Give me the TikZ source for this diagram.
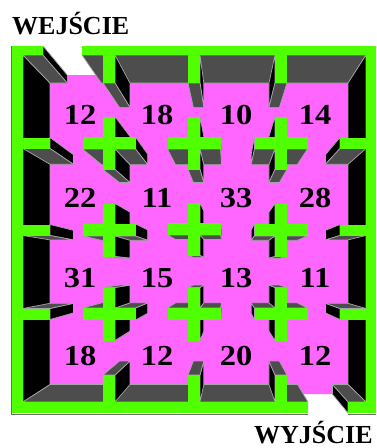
\documentclass[tikz,border=0pt]{standalone}
\usepackage{fontspec}
\setmainfont{Liberation Serif}
\usetikzlibrary{calc}
\definecolor{mzgreen}{RGB}{80,255,0}
\definecolor{mzpink}{RGB}{255,102,255}
\definecolor{mzgray}{RGB}{77,77,77}
\definecolor{mzblack}{RGB}{0,0,0}
\definecolor{mzedge}{RGB}{165,165,165}
\definecolor{mzshadow}{RGB}{110,110,110}
\def\VPx{229}\def\VPy{269}\def\sk{0.869}
% one side face of a wall: from edge (#2,#3)-(#4,#5) at top level down to floor level
\newcommand{\qf}[5]{\path[fill=#1, draw=mzedge, line width=0.7pt, line join=round] (#2,#3) -- (#4,#5) -- ($(V)!\sk!(#4,#5)$) -- ($(V)!\sk!(#2,#3)$) -- cycle;}
% visible faces of a box x1 y1 x2 y2, flags: left right top bottom candidates
\newcommand{\armbox}[8]{%
  \ifnum#5=1 \ifdim\VPx pt<#1pt \qf{mzblack}{#1}{#2}{#1}{#4}\fi\fi
  \ifnum#6=1 \ifdim\VPx pt>#3pt \qf{mzblack}{#3}{#2}{#3}{#4}\fi\fi
  \ifnum#7=1 \ifdim\VPy pt<#2pt \qf{mzgray}{#1}{#2}{#3}{#2}\fi\fi
  \ifnum#8=1 \ifdim\VPy pt>#4pt \qf{mzgray}{#1}{#4}{#3}{#4}\fi\fi
}
\newcommand{\crossfaces}[2]{%
  \pgfmathsetmacro\cxa{#1-26.5}\pgfmathsetmacro\cxb{#1-6}%
  \pgfmathsetmacro\cxc{#1+6}\pgfmathsetmacro\cxd{#1+26.5}%
  \pgfmathsetmacro\cya{#2-26.5}\pgfmathsetmacro\cyb{#2-6}%
  \pgfmathsetmacro\cyc{#2+6}\pgfmathsetmacro\cyd{#2+26.5}%
  \ifdim#1pt<\VPx pt
    \def\farH{\armbox{\cxa}{\cyb}{\cxb}{\cyc}{1}{0}{1}{1}}%
    \def\nearH{\armbox{\cxc}{\cyb}{\cxd}{\cyc}{0}{1}{1}{1}}%
  \else
    \def\farH{\armbox{\cxc}{\cyb}{\cxd}{\cyc}{0}{1}{1}{1}}%
    \def\nearH{\armbox{\cxa}{\cyb}{\cxb}{\cyc}{1}{0}{1}{1}}%
  \fi
  \ifdim#2pt<\VPy pt
    \def\farV{\armbox{\cxb}{\cya}{\cxc}{\cyb}{1}{1}{1}{0}}%
    \def\nearV{\armbox{\cxb}{\cyc}{\cxc}{\cyd}{1}{1}{0}{1}}%
  \else
    \def\farV{\armbox{\cxb}{\cyc}{\cxc}{\cyd}{1}{1}{0}{1}}%
    \def\nearV{\armbox{\cxb}{\cya}{\cxc}{\cyb}{1}{1}{1}{0}}%
  \fi
  \farH\farV\nearH\nearV
}
\begin{document}
\begin{tikzpicture}[x=1pt,y=-1pt,
  num/.style={inner sep=0pt, anchor=center, font=\bfseries\fontsize{29}{30}\selectfont},
  lbl/.style={inner sep=0pt, anchor=base west, font=\bfseries\fontsize{26}{27}\selectfont}]
\useasboundingbox (0,0) rectangle (377,448);
\fill[white] (0,0) rectangle (377,448);
\coordinate (V) at (\VPx,\VPy);
% floor
\fill[mzpink] ($(V)!\sk!(23,55)$) -- ($(V)!\sk!(43,55)$) -- ($(V)!\sk!(43,46)$) -- ($(V)!\sk!(82,46)$)
  -- ($(V)!\sk!(82,55)$) -- ($(V)!\sk!(366,55)$) -- ($(V)!\sk!(366,402)$) -- ($(V)!\sk!(348,402)$)
  -- ($(V)!\sk!(348,413)$) -- ($(V)!\sk!(308,413)$) -- ($(V)!\sk!(308,402)$) -- ($(V)!\sk!(23,402)$) -- cycle;
% outer wall faces
\qf{mzblack}{23}{55}{23}{402}
\qf{mzgray}{23}{55}{43}{55}
\qf{mzblack}{43}{46}{43}{55}
\qf{mzgray}{82}{55}{366}{55}
\qf{mzblack}{366}{55}{366}{402}
\qf{mzgray}{23}{402}{308}{402}
\qf{mzgray}{348}{402}{366}{402}
\qf{mzblack}{348}{402}{348}{413}
% stub faces
\armbox{103}{55}{115}{83}{1}{1}{0}{1}
\armbox{188}{55}{200}{83}{1}{1}{0}{1}
\armbox{275}{55}{287}{83}{1}{1}{0}{1}
\armbox{103}{375}{115}{402}{1}{1}{1}{0}
\armbox{188}{375}{200}{402}{1}{1}{1}{0}
\armbox{275}{375}{287}{402}{1}{1}{1}{0}
\armbox{23}{137.5}{50}{148.5}{0}{1}{1}{1}
\armbox{23}{224.5}{50}{235.5}{0}{1}{1}{1}
\armbox{23}{308.5}{50}{319.5}{0}{1}{1}{1}
\armbox{340}{137.5}{366}{148.5}{1}{0}{1}{1}
\armbox{340}{224.5}{366}{235.5}{1}{0}{1}{1}
\armbox{340}{308.5}{366}{319.5}{1}{0}{1}{1}
% cross faces
\crossfaces{109}{143}\crossfaces{194}{143}\crossfaces{281}{143}
\crossfaces{109}{230}\crossfaces{194}{229}\crossfaces{281}{230}
\crossfaces{109}{314}\crossfaces{194}{314}\crossfaces{281}{314}
% shadow line under the frame
\draw[mzshadow, line width=1.2pt] (11.4,46) -- (11.4,414.2) -- (308,414.2);
\draw[mzshadow, line width=1.2pt] (348,414.2) -- (376,414.2);
% green tops: frame
\fill[mzgreen] (12,46) rectangle (43,55);
\fill[mzgreen] (82,46) rectangle (376,55);
\fill[mzgreen] (12,46) rectangle (23,413);
\fill[mzgreen] (366,46) rectangle (376,413);
\fill[mzgreen] (12,402) rectangle (308,413);
\fill[mzgreen] (348,402) rectangle (376,413);
% green tops: stubs
\foreach \x in {109,194,281} {
  \fill[mzgreen] (\x-6,54) rectangle (\x+6,83);
  \fill[mzgreen] (\x-6,375) rectangle (\x+6,403);
}
\foreach \y in {143,230,314} {
  \fill[mzgreen] (22,\y-5.5) rectangle (50,\y+5.5);
  \fill[mzgreen] (340,\y-5.5) rectangle (367,\y+5.5);
}
% green tops: crosses
\foreach \x/\y in {109/143,194/143,281/143,109/230,194/229,281/230,109/314,194/314,281/314} {
  \fill[mzgreen] (\x-26.5,\y-6) rectangle (\x+26.5,\y+6);
  \fill[mzgreen] (\x-6,\y-26.5) rectangle (\x+6,\y+26.5);
}
% numbers
\node[num] (n11) at (80,115) {\scalebox{1.12}[1]{12}};
\node[num] (n12) at (157,115) {\scalebox{1.12}[1]{18}};
\node[num] (n13) at (236,115) {\scalebox{1.12}[1]{10}};
\node[num] (n14) at (315,115) {\scalebox{1.12}[1]{14}};
\node[num] (n21) at (80,198) {\scalebox{1.12}[1]{22}};
\node[num] (n22) at (157,198) {\scalebox{1.12}[1]{11}};
\node[num] (n23) at (236,198) {\scalebox{1.12}[1]{33}};
\node[num] (n24) at (315,198) {\scalebox{1.12}[1]{28}};
\node[num] (n31) at (80,278) {\scalebox{1.12}[1]{31}};
\node[num] (n32) at (157,278) {\scalebox{1.12}[1]{15}};
\node[num] (n33) at (236,278) {\scalebox{1.12}[1]{13}};
\node[num] (n34) at (315,278) {\scalebox{1.12}[1]{11}};
\node[num] (n41) at (80,356) {\scalebox{1.12}[1]{18}};
\node[num] (n42) at (157,356) {\scalebox{1.12}[1]{12}};
\node[num] (n43) at (236,356) {\scalebox{1.12}[1]{20}};
\node[num] (n44) at (315,356) {\scalebox{1.12}[1]{12}};
% labels
\node[lbl] (wej) at (12,34) {WEJŚCIE};
\node[lbl] (wyj) at (254,443.5) {WYJŚCIE};
\end{tikzpicture}
\end{document}
